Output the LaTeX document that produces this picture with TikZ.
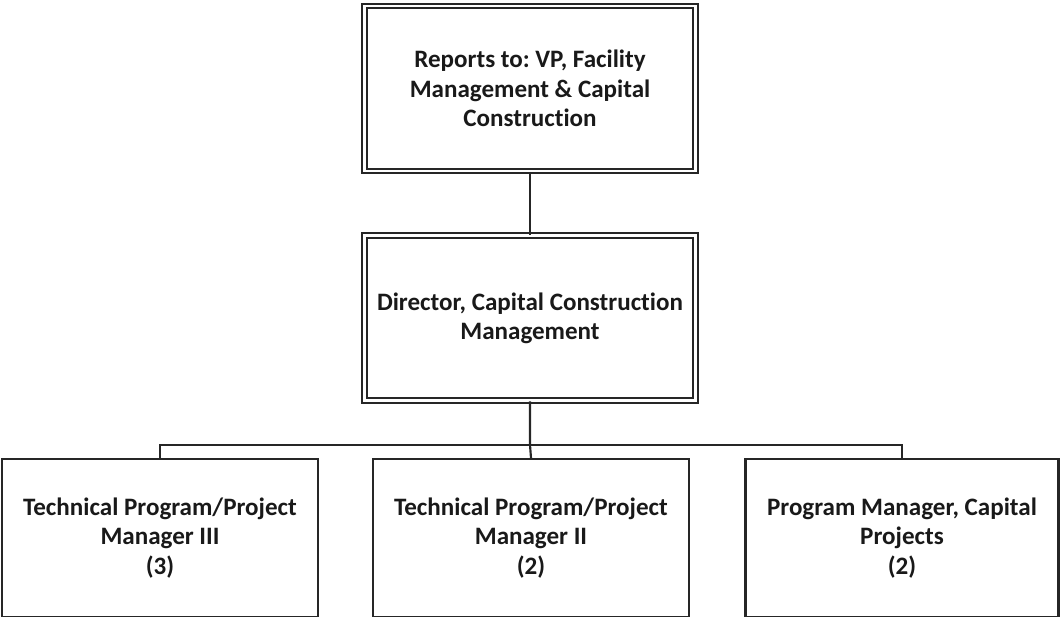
\documentclass[tikz,border=0pt]{standalone}
\usepackage{fontspec}
\setmainfont{Carlito}[Ligatures=NoCommon]
\begin{document}
\frenchspacing
\begin{tikzpicture}[x=0.75pt,y=-0.75pt,
  lbl/.style={font=\fontsize{18.8pt}{22pt}\selectfont\bfseries, text=black!90, align=center},
  dbox/.style={lbl, draw=black!85, line width=1.4pt, double=white, double distance=2.2pt, inner sep=0pt, minimum width=248.25pt, minimum height=123.75pt},
  sbox/.style={lbl, draw=black!85, line width=1.6pt, inner sep=0pt, minimum width=237pt, minimum height=118.5pt},
  conn/.style={draw=black!85, line width=1.6pt}]
\useasboundingbox (0,0) rectangle (1060,617);
\node[dbox] (top) at (530,88.5) {Reports to: VP, Facility\\Management \& Capital\\Construction};
\node[dbox] (mid) at (530,318) {Director, Capital Construction\\Management};
\node[sbox] (b1) at (160,538) {Technical Program/Project\\Manager III\\(3)};
\node[sbox] (b2) at (531,538) {Technical Program/Project\\Manager II\\(2)};
\node[sbox, minimum width=234.75pt] (b3) at (902,538) {Program Manager, Capital\\Projects\\(2)};
\coordinate (bus) at (531,445);
\draw[conn] (top.south) -- (mid.north);
\draw[conn] (mid.south) -- (mid.south |- bus) -- (b2.north);
\draw[conn] (b1.north) -- (b1.north |- bus) -- (b3.north |- bus) -- (b3.north);
\end{tikzpicture}
\end{document}
